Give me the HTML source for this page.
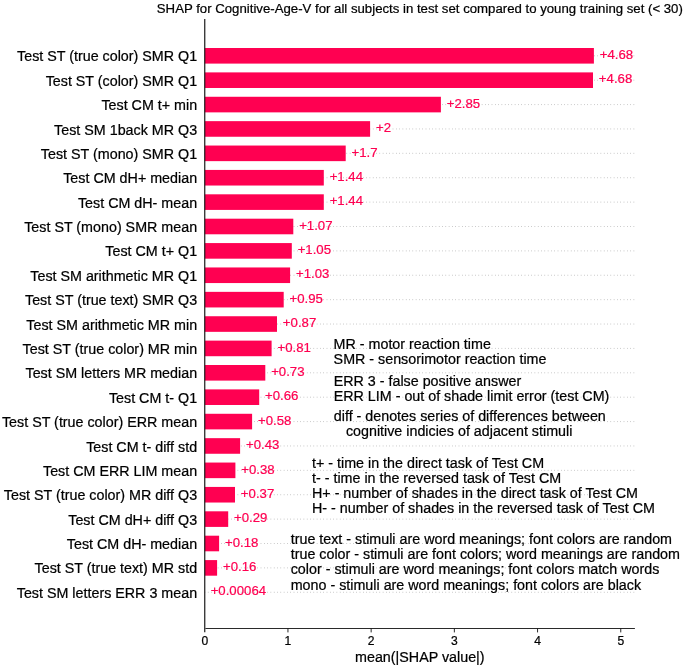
<!DOCTYPE html><html><head><meta charset="utf-8"><style>html,body{margin:0;padding:0;background:#fff;}svg{display:block;will-change:transform;}text{font-family:"Liberation Sans",sans-serif;}</style></head><body>
<svg width="685" height="666" viewBox="0 0 685 666">
<rect x="0" y="0" width="685" height="666" fill="#fff"/>
<g stroke="#707070" stroke-width="0.6" stroke-dasharray="0.6 2.7" stroke-dashoffset="0.15"><line x1="204.75" y1="55.80" x2="634.90" y2="55.80"/><line x1="204.75" y1="80.19" x2="634.90" y2="80.19"/><line x1="204.75" y1="104.57" x2="634.90" y2="104.57"/><line x1="204.75" y1="128.95" x2="634.90" y2="128.95"/><line x1="204.75" y1="153.34" x2="634.90" y2="153.34"/><line x1="204.75" y1="177.73" x2="634.90" y2="177.73"/><line x1="204.75" y1="202.11" x2="634.90" y2="202.11"/><line x1="204.75" y1="226.50" x2="634.90" y2="226.50"/><line x1="204.75" y1="250.88" x2="634.90" y2="250.88"/><line x1="204.75" y1="275.26" x2="634.90" y2="275.26"/><line x1="204.75" y1="299.65" x2="634.90" y2="299.65"/><line x1="204.75" y1="324.04" x2="634.90" y2="324.04"/><line x1="204.75" y1="348.42" x2="634.90" y2="348.42"/><line x1="204.75" y1="372.81" x2="634.90" y2="372.81"/><line x1="204.75" y1="397.19" x2="634.90" y2="397.19"/><line x1="204.75" y1="421.58" x2="634.90" y2="421.58"/><line x1="204.75" y1="445.96" x2="634.90" y2="445.96"/><line x1="204.75" y1="470.35" x2="634.90" y2="470.35"/><line x1="204.75" y1="494.73" x2="634.90" y2="494.73"/><line x1="204.75" y1="519.12" x2="634.90" y2="519.12"/><line x1="204.75" y1="543.50" x2="634.90" y2="543.50"/><line x1="204.75" y1="567.88" x2="634.90" y2="567.88"/><line x1="204.75" y1="592.27" x2="634.90" y2="592.27"/></g>
<g fill="#ff0051"><rect x="204.75" y="48.00" width="389.15" height="15.60"/><rect x="204.75" y="72.39" width="388.25" height="15.60"/><rect x="204.75" y="96.77" width="236.15" height="15.60"/><rect x="204.75" y="121.15" width="165.35" height="15.60"/><rect x="204.75" y="145.54" width="140.95" height="15.60"/><rect x="204.75" y="169.93" width="119.05" height="15.60"/><rect x="204.75" y="194.31" width="119.05" height="15.60"/><rect x="204.75" y="218.69" width="88.55" height="15.60"/><rect x="204.75" y="243.08" width="87.05" height="15.60"/><rect x="204.75" y="267.46" width="85.35" height="15.60"/><rect x="204.75" y="291.85" width="78.95" height="15.60"/><rect x="204.75" y="316.24" width="72.25" height="15.60"/><rect x="204.75" y="340.62" width="66.85" height="15.60"/><rect x="204.75" y="365.00" width="60.55" height="15.60"/><rect x="204.75" y="389.39" width="54.45" height="15.60"/><rect x="204.75" y="413.78" width="47.35" height="15.60"/><rect x="204.75" y="438.16" width="35.35" height="15.60"/><rect x="204.75" y="462.55" width="30.65" height="15.60"/><rect x="204.75" y="486.93" width="30.25" height="15.60"/><rect x="204.75" y="511.31" width="23.45" height="15.60"/><rect x="204.75" y="535.70" width="14.35" height="15.60"/><rect x="204.75" y="560.09" width="12.35" height="15.60"/><rect x="204.75" y="584.47" width="0.05" height="15.60"/></g>
<g fill="#ff0051" stroke="#ff0051" stroke-width="0.22" font-size="13.2"><text transform="translate(599.75,59.00) scale(1,1.02)">+4.68</text><text transform="translate(598.85,83.39) scale(1,1.02)">+4.68</text><text transform="translate(446.75,107.77) scale(1,1.02)">+2.85</text><text transform="translate(375.95,132.15) scale(1,1.02)">+2</text><text transform="translate(351.55,156.54) scale(1,1.02)">+1.7</text><text transform="translate(329.65,180.93) scale(1,1.02)">+1.44</text><text transform="translate(329.65,205.31) scale(1,1.02)">+1.44</text><text transform="translate(299.15,229.69) scale(1,1.02)">+1.07</text><text transform="translate(297.65,254.08) scale(1,1.02)">+1.05</text><text transform="translate(295.95,278.46) scale(1,1.02)">+1.03</text><text transform="translate(289.55,302.85) scale(1,1.02)">+0.95</text><text transform="translate(282.85,327.24) scale(1,1.02)">+0.87</text><text transform="translate(277.45,351.62) scale(1,1.02)">+0.81</text><text transform="translate(271.15,376.00) scale(1,1.02)">+0.73</text><text transform="translate(265.05,400.39) scale(1,1.02)">+0.66</text><text transform="translate(257.95,424.78) scale(1,1.02)">+0.58</text><text transform="translate(245.95,449.16) scale(1,1.02)">+0.43</text><text transform="translate(241.25,473.55) scale(1,1.02)">+0.38</text><text transform="translate(240.85,497.93) scale(1,1.02)">+0.37</text><text transform="translate(234.05,522.32) scale(1,1.02)">+0.29</text><text transform="translate(224.95,546.70) scale(1,1.02)">+0.18</text><text transform="translate(222.95,571.09) scale(1,1.02)">+0.16</text><text transform="translate(210.65,595.47) scale(1,1.02)">+0.00064</text></g>
<g fill="#000" stroke="#000" stroke-width="0.22" font-size="14.3" text-anchor="end"><text transform="translate(197.10,61.35) scale(1,1.02)">Test ST (true color) SMR Q1</text><text transform="translate(197.10,85.73) scale(1,1.02)">Test ST (color) SMR Q1</text><text transform="translate(197.10,110.12) scale(1,1.02)">Test CM t+ min</text><text transform="translate(197.10,134.50) scale(1,1.02)">Test SM 1back MR Q3</text><text transform="translate(197.10,158.89) scale(1,1.02)">Test ST (mono) SMR Q1</text><text transform="translate(197.10,183.28) scale(1,1.02)">Test CM dH+ median</text><text transform="translate(197.10,207.66) scale(1,1.02)">Test CM dH- mean</text><text transform="translate(197.10,232.05) scale(1,1.02)">Test ST (mono) SMR mean</text><text transform="translate(197.10,256.43) scale(1,1.02)">Test CM t+ Q1</text><text transform="translate(197.10,280.81) scale(1,1.02)">Test SM arithmetic MR Q1</text><text transform="translate(197.10,305.20) scale(1,1.02)">Test ST (true text) SMR Q3</text><text transform="translate(197.10,329.59) scale(1,1.02)">Test SM arithmetic MR min</text><text transform="translate(197.10,353.97) scale(1,1.02)">Test ST (true color) MR min</text><text transform="translate(197.10,378.36) scale(1,1.02)">Test SM letters MR median</text><text transform="translate(197.10,402.74) scale(1,1.02)">Test CM t- Q1</text><text transform="translate(197.10,427.13) scale(1,1.02)">Test ST (true color) ERR mean</text><text transform="translate(197.10,451.51) scale(1,1.02)">Test CM t- diff std</text><text transform="translate(197.10,475.90) scale(1,1.02)">Test CM ERR LIM mean</text><text transform="translate(197.10,500.28) scale(1,1.02)">Test ST (true color) MR diff Q3</text><text transform="translate(197.10,524.66) scale(1,1.02)">Test CM dH+ diff Q3</text><text transform="translate(197.10,549.05) scale(1,1.02)">Test CM dH- median</text><text transform="translate(197.10,573.43) scale(1,1.02)">Test ST (true text) MR std</text><text transform="translate(197.10,597.82) scale(1,1.02)">Test SM letters ERR 3 mean</text></g>
<line x1="204.75" y1="19.1" x2="204.75" y2="632.15" stroke="#1a1a1a" stroke-width="1.2"/>
<line x1="205.35" y1="628.55" x2="634.9" y2="628.55" stroke="#2a2a2a" stroke-width="1.1"/>
<g stroke="#111" stroke-width="0.9"><line x1="287.95" y1="628.55" x2="287.95" y2="632.4"/><line x1="371.15" y1="628.55" x2="371.15" y2="632.4"/><line x1="454.35" y1="628.55" x2="454.35" y2="632.4"/><line x1="537.55" y1="628.55" x2="537.55" y2="632.4"/><line x1="620.75" y1="628.55" x2="620.75" y2="632.4"/></g>
<g fill="#000" stroke="#000" stroke-width="0.22" font-size="12.1" text-anchor="middle"><text transform="translate(204.75,644.90) scale(1,1.02)">0</text><text transform="translate(287.95,644.90) scale(1,1.02)">1</text><text transform="translate(371.15,644.90) scale(1,1.02)">2</text><text transform="translate(454.35,644.90) scale(1,1.02)">3</text><text transform="translate(537.55,644.90) scale(1,1.02)">4</text><text transform="translate(620.75,644.90) scale(1,1.02)">5</text></g>
<g fill="#000" stroke="#000" stroke-width="0.22" font-size="14.3" text-anchor="middle"><text transform="translate(419.82,661.90) scale(1,1.02)">mean(|SHAP value|)</text></g>
<g fill="#000" stroke="#000" stroke-width="0.22" font-size="13.2" text-anchor="middle"><text transform="translate(419.82,12.80) scale(1,1.02)">SHAP for Cognitive-Age-V for all subjects in test set compared to young training set (&lt; 30)</text></g>
<g fill="#000" stroke="#000" stroke-width="0.22" font-size="14.3"><text transform="translate(333.60,349.00) scale(1,1.02)">MR - motor reaction time</text><text transform="translate(333.60,363.80) scale(1,1.02)">SMR - sensorimotor reaction time</text><text transform="translate(333.70,385.90) scale(1,1.02)">ERR 3 - false positive answer</text><text transform="translate(333.70,401.00) scale(1,1.02)">ERR LIM - out of shade limit error (test CM)</text><text transform="translate(333.80,420.60) scale(1,1.02)">diff - denotes series of differences between</text><text transform="translate(345.90,435.60) scale(1,1.02)">cognitive indicies of adjacent stimuli</text><text transform="translate(312.00,467.80) scale(1,1.02)">t+ - time in the direct task of Test CM</text><text transform="translate(312.00,482.90) scale(1,1.02)">t- - time in the reversed task of Test CM</text><text transform="translate(312.00,498.00) scale(1,1.02)">H+ - number of shades in the direct task of Test CM</text><text transform="translate(312.00,513.20) scale(1,1.02)">H- - number of shades in the reversed task of Test CM</text><text transform="translate(290.70,544.00) scale(1,1.02)">true text - stimuli are word meanings; font colors are random</text><text transform="translate(290.70,559.20) scale(1,1.02)">true color - stimuli are font colors; word meanings are random</text><text transform="translate(290.70,574.30) scale(1,1.02)">color - stimuli are word meanings; font colors match words</text><text transform="translate(290.70,589.50) scale(1,1.02)">mono - stimuli are word meanings; font colors are black</text></g>
</svg></body></html>
